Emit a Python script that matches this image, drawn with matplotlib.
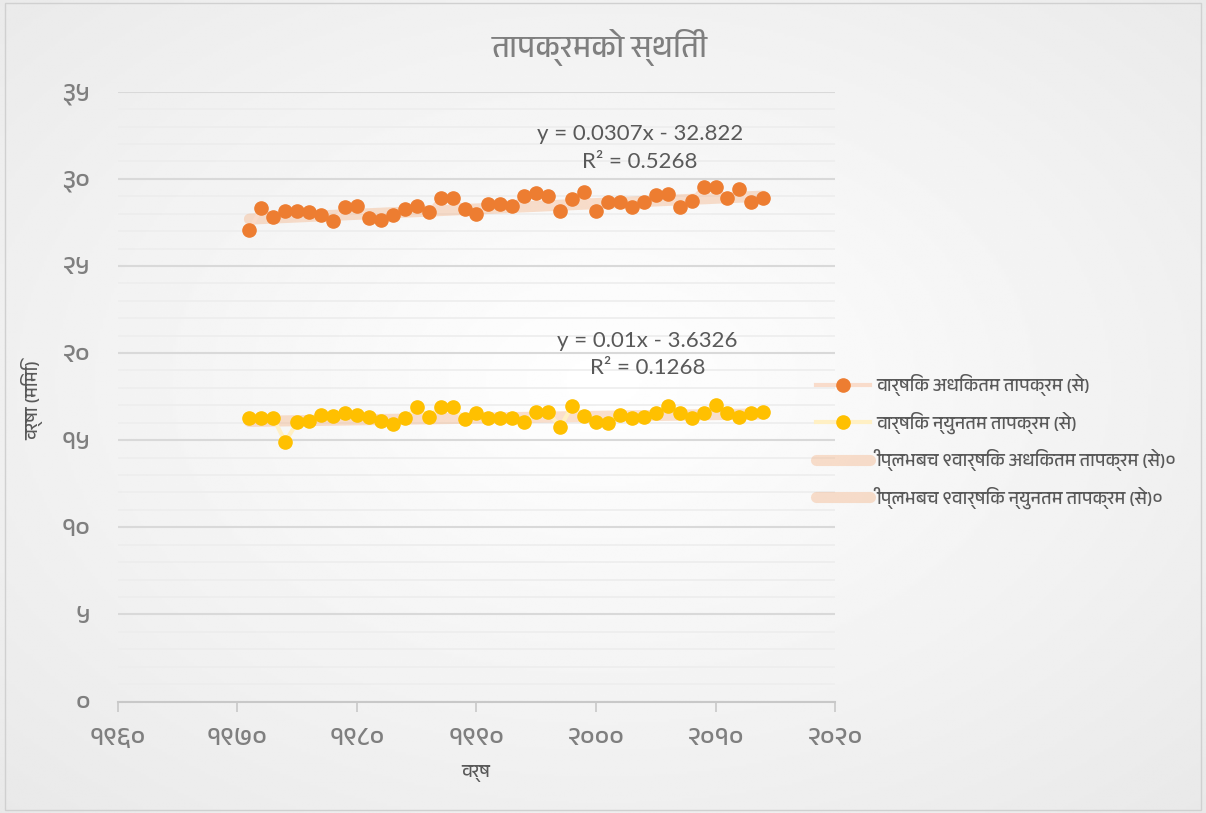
import matplotlib.pyplot as plt
import numpy as np
from matplotlib import font_manager

# data
years = np.arange(1971, 2015)
max_temp = [27.06, 28.31, 27.80, 28.17, 28.17, 28.08, 27.94, 27.57, 28.40, 28.46,
            27.77, 27.66, 27.93, 28.29, 28.46, 28.08, 28.89, 28.89, 28.27, 27.97,
            28.56, 28.56, 28.44, 29.04, 29.17, 28.99, 28.16, 28.86, 29.27, 28.16,
            28.66, 28.66, 28.39, 28.67, 29.06, 29.13, 28.39, 28.75, 29.55, 29.52,
            28.89, 29.40, 28.66, 28.89]
min_temp = [16.26, 16.26, 16.26, 14.91, 16.03, 16.12, 16.45, 16.39, 16.54, 16.45,
            16.35, 16.12, 15.95, 16.26, 16.89, 16.35, 16.89, 16.89, 16.22, 16.54,
            16.26, 16.26, 16.26, 16.03, 16.60, 16.64, 15.74, 16.98, 16.39, 16.03,
            15.97, 16.45, 16.26, 16.35, 16.54, 16.98, 16.54, 16.26, 16.54, 17.02,
            16.54, 16.35, 16.54, 16.64]

# linear trend coefficients shown on the chart (slope, intercept)
max_fit = (0.0307, -32.822)
min_fit = (0.01, -3.6326)
max_eq = ['y = 0.0307x - 32.822', 'R² = 0.5268']
min_eq = ['y = 0.01x - 3.6326', 'R² = 0.1268']

labels = ['वार्षिक अधिकतम तापक्रम (से)',
          'वार्षिक न्युनतम तापक्रम (से)',
          'ीप्लभबच ९वार्षिक अधिकतम तापक्रम (से)०',
          'ीप्लभबच ९वार्षिक न्युनतम तापक्रम (से)०']

x_ticks = [1960, 1970, 1980, 1990, 2000, 2010, 2020]
x_ticklabels = ['१९६०', '१९७०', '१९८०', '१९९०', '२०००', '२०१०', '२०२०']
y_ticks = [0, 5, 10, 15, 20, 25, 30, 35]
y_ticklabels = ['०', '५', '१०', '१५', '२०', '२५', '३०', '३५']

title = 'तापक्रमको स्थिती'
xlabel = 'वर्ष'
ylabel = 'वर्षा (मिमि)'

# pick a font that has devanagari glyphs, if one is around
deva = sorted({f.name for f in font_manager.fontManager.ttflist
               if 'Devanagari' in f.name or 'Lohit' in f.name or 'Mukta' in f.name})
plt.rcParams['font.family'] = deva[:1] + ['DejaVu Sans']

grey = '#7f7f7f'

fig = plt.figure(figsize=(12.06, 8.13), dpi=100)

# soft radial background like the excel style
bg = fig.add_axes([0, 0, 1, 1], zorder=-10)
yy, xx = np.mgrid[0:1:300j, 0:1:450j]
r = np.sqrt((xx - 0.5) ** 2 + (yy - 0.47) ** 2)
bg.imshow(1 - 0.12 * r, cmap='gray', vmin=0, vmax=1, aspect='auto',
          extent=[0, 1, 0, 1], interpolation='bilinear')
bg.add_patch(plt.Rectangle((0.004, 0.004), 0.992, 0.992, fill=False,
                           ec='#d0d0d0', lw=1))
bg.set_xlim(0, 1)
bg.set_ylim(0, 1)
bg.axis('off')

ax = fig.add_axes([0.0978, 0.1371, 0.5946, 0.7501])
ax.patch.set_alpha(0)

ax.plot(years, max_temp, '-o', color='#f9dccb', lw=3, ms=9.5,
        mfc='#ED7D31', mec='#ED7D31', label=labels[0], zorder=3)
ax.plot(years, min_temp, '-o', color='#fff0c4', lw=3, ms=9.5,
        mfc='#FFC000', mec='#FFC000', label=labels[1], zorder=3)

ax.plot(years, max_fit[0] * years + max_fit[1], color='#F4B183', alpha=0.4,
        lw=8, solid_capstyle='round', label=labels[2], zorder=2)
ax.plot(years, min_fit[0] * years + min_fit[1], color='#F4B183', alpha=0.4,
        lw=8, solid_capstyle='round', label=labels[3], zorder=2)

ax.set_xlim(1960, 2020)
ax.set_ylim(0, 35)
ax.set_xticks(x_ticks)
ax.set_xticklabels(x_ticklabels)
ax.set_yticks(y_ticks)
ax.set_yticklabels(y_ticklabels)
ax.set_yticks(np.arange(0, 36, 1), minor=True)
ax.tick_params(axis='x', length=7, width=1.2, color='#c8c8c8',
               labelsize=19, labelcolor=grey, pad=12)
ax.tick_params(axis='y', which='both', length=0, labelsize=19,
               labelcolor=grey, pad=20)
ax.grid(which='major', axis='y', color='#d9d9d9', lw=1.5)
ax.grid(which='minor', axis='y', color='#ededed', lw=1.2)
ax.set_axisbelow(True)
for s in ['top', 'right', 'left']:
    ax.spines[s].set_visible(False)
ax.spines['bottom'].set_color('#c8c8c8')
ax.spines['bottom'].set_linewidth(1.5)

fig.text(0.4975, 0.941, title, ha='center', va='center', fontsize=22, color=grey)
fig.text(476 / 1206, 1 - 773 / 813, xlabel, ha='center', va='center',
         fontsize=13, color='#595959', weight='bold')
fig.text(32 / 1206, 1 - 400 / 813, ylabel, ha='center', va='center',
         fontsize=13, color='#595959', weight='bold', rotation=90)

eq_font = ['Lato', 'DejaVu Sans']
fig.text(640 / 1206, 1 - 134 / 813, max_eq[0], ha='center', va='center',
         fontsize=16, color='#595959', family=eq_font)
fig.text(640 / 1206, 1 - 162 / 813, max_eq[1], ha='center', va='center',
         fontsize=16, color='#595959', family=eq_font)
fig.text(647 / 1206, 1 - 341 / 813, min_eq[0], ha='center', va='center',
         fontsize=16, color='#595959', family=eq_font)
fig.text(648 / 1206, 1 - 368 / 813, min_eq[1], ha='center', va='center',
         fontsize=16, color='#595959', family=eq_font)

ax.legend(loc='upper left', bbox_to_anchor=(800 / 1206, 1 - 358 / 813),
          bbox_transform=fig.transFigure, frameon=False, fontsize=13,
          labelcolor='#595959', handlelength=3, labelspacing=0.85,
          handletextpad=0.3)

fig.savefig('out.png', dpi=100)
